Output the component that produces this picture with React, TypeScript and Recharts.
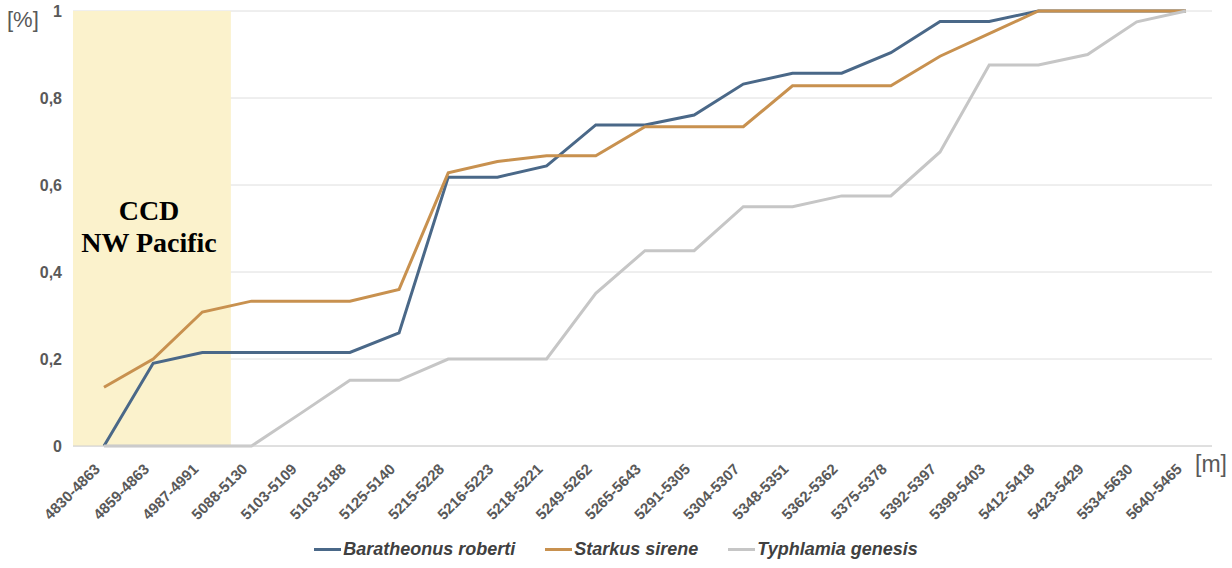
import React from 'react';
import { LineChart, Line, XAxis, YAxis, CartesianGrid, Legend, ReferenceArea } from 'recharts';

document.body.style.margin = '0';

// depth intervals [m]
const depths = [
  '4830-4863', '4859-4863', '4987-4991', '5088-5130', '5103-5109', '5103-5188',
  '5125-5140', '5215-5228', '5216-5223', '5218-5221', '5249-5262', '5265-5643',
  '5291-5305', '5304-5307', '5348-5351', '5362-5362', '5375-5378', '5392-5397',
  '5399-5403', '5412-5418', '5423-5429', '5534-5630', '5640-5465',
];

const baratheonus = [
  0, 0.19, 0.215, 0.215, 0.215, 0.215, 0.26, 0.618, 0.618, 0.644, 0.738, 0.738,
  0.761, 0.832, 0.857, 0.857, 0.904, 0.976, 0.976, 1, 1, 1, 1,
];
const starkus = [
  0.135, 0.2, 0.308, 0.333, 0.333, 0.333, 0.36, 0.628, 0.654, 0.667, 0.667, 0.734,
  0.734, 0.734, 0.828, 0.828, 0.828, 0.896, 0.948, 1, 1, 1, 1,
];
const typhlamia = [
  0, 0, 0, 0, 0.075, 0.151, 0.151, 0.2, 0.2, 0.2, 0.351, 0.449,
  0.449, 0.55, 0.55, 0.575, 0.575, 0.676, 0.876, 0.876, 0.9, 0.975, 1,
];

const yTicks = [0, 0.2, 0.4, 0.6, 0.8, 1];
// CCD band covers the first three intervals
const ccdStart = -0.63;
const ccdEnd = 2.58;

const SERIES = [
  { key: 'baratheonus', name: 'Baratheonus roberti', color: '#4a6888' },
  { key: 'starkus', name: 'Starkus sirene', color: '#c8914f' },
  { key: 'typhlamia', name: 'Typhlamia genesis', color: '#c6c6c6' },
];

const data = depths.map((d, i) => ({
  idx: i,
  depth: d,
  baratheonus: baratheonus[i],
  starkus: starkus[i],
  typhlamia: typhlamia[i],
}));

const AXIS_TEXT = '#595959';
const SANS = 'Liberation Sans, Arial, sans-serif';

function DepthTick({ x, y, payload }: any) {
  return (
    <g transform={`translate(${x - 3},${y + 16})`}>
      <text transform="rotate(-45)" textAnchor="end" fill={AXIS_TEXT} fontSize={15} fontWeight="bold" fontFamily={SANS}>
        {depths[payload.value]}
      </text>
    </g>
  );
}

function LegendRow({ payload }: any) {
  return (
    <div style={{ display: 'flex', justifyContent: 'center', gap: 30 }}>
      {payload.map((p: any) => (
        <div key={p.value} style={{ display: 'flex', alignItems: 'center' }}>
          <span style={{ display: 'inline-block', width: 27, height: 3, background: p.color, marginRight: 2 }} />
          <span style={{ fontStyle: 'italic', fontWeight: 600, fontSize: 18, color: '#404040', fontFamily: SANS }}>
            {p.value}
          </span>
        </div>
      ))}
    </div>
  );
}

export default function App() {
  return (
    <div style={{ position: 'relative', width: 1232, height: 568, background: '#fff' }}>
      <LineChart width={1232} height={568} data={data} margin={{ top: 11, right: 20, left: 0, bottom: 0 }}>
        <ReferenceArea x1={ccdStart} x2={ccdEnd} y1={0} y2={1} fill="#fbf2cc" fillOpacity={1} stroke="none" />
        <CartesianGrid vertical={false} stroke="#dedede" strokeWidth={1} />
        <XAxis
          dataKey="idx"
          type="number"
          domain={[-0.63, 22.53]}
          ticks={depths.map((_, i) => i)}
          interval={0}
          tick={<DepthTick />}
          tickLine={false}
          axisLine={{ stroke: '#d0d0d0' }}
          height={122}
        />
        <YAxis
          domain={[0, 1]}
          ticks={yTicks}
          width={73}
          tickSize={0}
          tickMargin={11}
          axisLine={false}
          tickLine={false}
          tickFormatter={(v) => String(v).replace('.', ',')}
          tick={{ fill: AXIS_TEXT, fontSize: 16, fontWeight: 'bold', fontFamily: SANS }}
        />
        {SERIES.map((s) => (
          <Line
            key={s.key}
            type="linear"
            dataKey={s.key}
            name={s.name}
            stroke={s.color}
            strokeWidth={3}
            dot={false}
            isAnimationActive={false}
          />
        ))}
        <Legend
          layout="horizontal"
          verticalAlign="middle"
          align="center"
          content={<LegendRow />}
          wrapperStyle={{ top: 539, left: 0, width: 1232 }}
        />
      </LineChart>
      <div style={{ position: 'absolute', left: 7, top: 7, fontSize: 22, color: AXIS_TEXT, fontFamily: SANS }}>[%]</div>
      <div style={{ position: 'absolute', left: 1195, top: 451, fontSize: 23, color: AXIS_TEXT, fontFamily: SANS }}>[m]</div>
      <div
        style={{
          position: 'absolute', left: 69, width: 160, top: 195, textAlign: 'center',
          fontSize: 28, fontWeight: 'bold', lineHeight: '32px', color: '#000',
          fontFamily: 'Liberation Serif, Times New Roman, serif',
        }}
      >
        CCD
        <br />
        NW Pacific
      </div>
    </div>
  );
}
